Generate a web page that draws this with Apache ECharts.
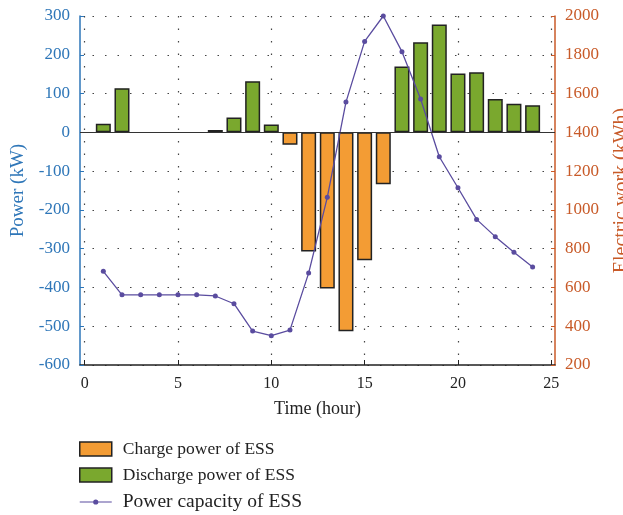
<!DOCTYPE html>
<html>
<head>
<meta charset="utf-8">
<script src="https://cdn.jsdelivr.net/npm/echarts@6/dist/echarts.min.js"></script>
<style>
  html, body { margin: 0; padding: 0; background: #fff; }
  #chart { width: 623px; height: 515px; }
</style>
</head>
<body>
<div id="chart"></div>
<script>
// Hourly operation of the energy storage system
const hours = [1, 2, 3, 4, 5, 6, 7, 8, 9, 10, 11, 12, 13, 14, 15, 16, 17, 18, 19, 20, 21, 22, 23, 24];
const chargePower = [0, 0, 0, 0, 0, 0, 0, 0, 0, 0, -32, -307, -403, -513, -330, -134, 0, 0, 0, 0, 0, 0, 0, 0];
const dischargePower = [22, 114, 0, 0, 0, 0, 6, 38, 132, 20, 0, 0, 0, 0, 0, 0, 170, 232, 278, 152, 155, 86, 74, 70];
const capacity = [683, 562, 562, 562, 562, 562, 556, 516, 375, 351, 380, 674, 1065, 1556, 1869, 2000, 1816, 1572, 1274, 1114, 951, 862, 781, 705];
const xTicks = [0, 5, 10, 15, 20, 25];

const serif = '"Liberation Serif", "DejaVu Serif", serif';
const blue = '#2e76b8';
const rust = '#c85a28';
const orange = '#f39c34';
const green = '#7aa82e';
const purple = '#5a4c9f';

// Zero values mean "no bar" for that hour
const pairs = (vals) => hours.map((h, i) => [h, vals[i] === 0 ? null : vals[i]]);

// Legend glyph for the capacity line: thin stroke with a dot, padded to a 32x14 box
const lineIcon = 'path://M0,0L0.01,0L0.01,0.01Z M0,14L0.01,14L0.01,13.99Z M32,0L31.99,0L31.99,0.01Z ' +
  'M0,6.4L32,6.4L32,7.6L0,7.6Z M16,4.4A2.6,2.6 0 1 1 15.99,4.4Z';

const chart = echarts.init(document.getElementById('chart'), null, { renderer: 'canvas' });
chart.setOption({
  animation: false,
  backgroundColor: '#fff',
  grid: { left: 80, right: 68, top: 16, bottom: 150, containLabel: false, outerBoundsMode: 'none' },
  legend: {
    orient: 'vertical',
    left: 79,
    top: 440,
    height: 90,
    padding: 0,
    itemWidth: 32,
    itemHeight: 14,
    itemGap: 8,
    textStyle: { fontFamily: serif, fontSize: 17.5, color: '#222', padding: [0, 0, 0, 6] },
    data: [
      { name: 'Charge power of ESS', icon: 'rect', itemStyle: { color: orange, borderColor: '#222', borderWidth: 1.5 } },
      { name: 'Discharge power of ESS', icon: 'rect', itemStyle: { color: green, borderColor: '#222', borderWidth: 1.5 } },
      { name: 'Power capacity of ESS', icon: lineIcon, itemStyle: { color: purple, borderWidth: 0 }, textStyle: { fontSize: 19.5 } }
    ]
  },
  xAxis: {
    type: 'value',
    min: -0.25,
    max: 25.2,
    name: 'Time (hour)',
    nameLocation: 'middle',
    nameGap: 35,
    nameTextStyle: { fontFamily: serif, fontSize: 18, color: '#222' },
    axisLine: { show: true, onZero: false, lineStyle: { color: '#222', width: 1.5 } },
    axisTick: { show: true, inside: true, length: 5, customValues: xTicks, lineStyle: { color: '#222' } },
    axisLabel: { customValues: xTicks, margin: 11, fontFamily: serif, fontSize: 16, color: '#222' },
    splitLine: { show: true, lineStyle: { color: '#444', width: 1.2, type: [1.5, 11] } }
  },
  yAxis: [
    {
      type: 'value',
      min: -600,
      max: 300,
      interval: 100,
      position: 'left',
      name: 'Power (kW)',
      nameLocation: 'middle',
      nameGap: 52,
      nameTextStyle: { fontFamily: serif, fontSize: 19, color: blue },
      axisLine: { show: true, onZero: false, lineStyle: { color: blue, width: 1.5 } },
      axisTick: { show: true, inside: true, length: 4, lineStyle: { color: blue } },
      axisLabel: { margin: 10, fontFamily: serif, fontSize: 17, color: blue },
      splitLine: { show: true, lineStyle: { color: '#444', width: 1.2, type: [1.5, 11] } }
    },
    {
      type: 'value',
      min: 200,
      max: 2000,
      interval: 200,
      position: 'right',
      name: 'Electric work (kWh)',
      nameLocation: 'middle',
      nameGap: 57,
      nameTextStyle: { fontFamily: serif, fontSize: 20, color: rust },
      axisLine: { show: true, onZero: false, lineStyle: { color: rust, width: 1.5 } },
      axisTick: { show: true, inside: true, length: 4, lineStyle: { color: rust } },
      axisLabel: { margin: 10, fontFamily: serif, fontSize: 17, color: rust, formatter: (v) => String(v) },
      splitLine: { show: false }
    }
  ],
  series: [
    {
      name: 'Charge power of ESS',
      type: 'bar',
      yAxisIndex: 0,
      stack: 'power',
      barWidth: 15,
      itemStyle: { color: orange, borderColor: '#222', borderWidth: 1.5 },
      data: pairs(chargePower),
      z: 2
    },
    {
      name: 'Discharge power of ESS',
      type: 'bar',
      yAxisIndex: 0,
      stack: 'power',
      barWidth: 15,
      itemStyle: { color: green, borderColor: '#222', borderWidth: 1.5 },
      data: pairs(dischargePower),
      markLine: {
        silent: true,
        symbol: 'none',
        label: { show: false },
        lineStyle: { color: '#333', width: 1.2, type: 'solid' },
        data: [{ yAxis: 0 }]
      },
      z: 2
    },
    {
      name: 'Power capacity of ESS',
      type: 'line',
      yAxisIndex: 1,
      symbol: 'circle',
      symbolSize: 5,
      lineStyle: { color: purple, width: 1.3 },
      itemStyle: { color: purple },
      data: hours.map((h, i) => [h, capacity[i]]),
      z: 3
    }
  ]
});
</script>
</body>
</html>
